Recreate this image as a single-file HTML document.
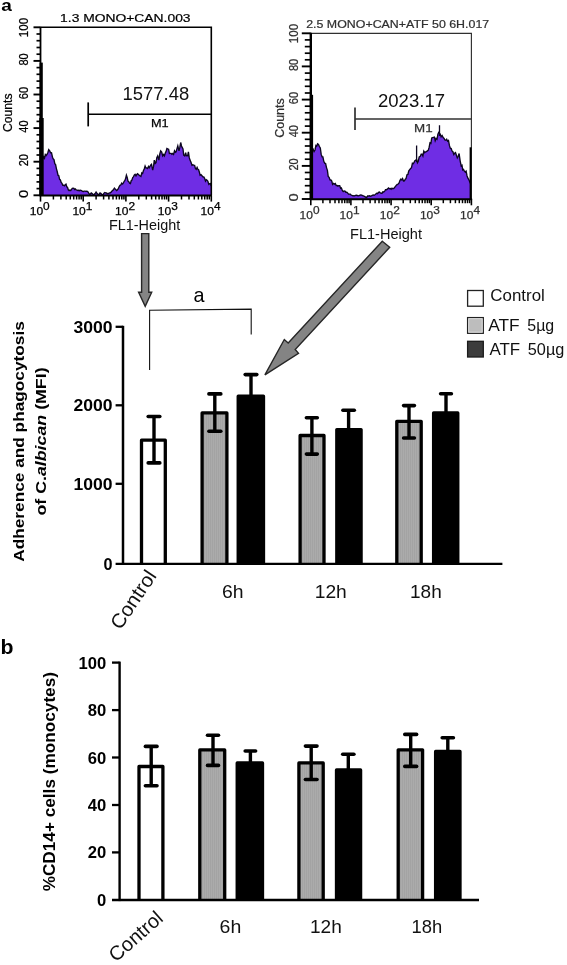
<!DOCTYPE html>
<html><head><meta charset="utf-8"><title>Figure</title>
<style>html,body{margin:0;padding:0;background:#fff;}svg{display:block;will-change:transform;-webkit-font-smoothing:antialiased;}text{font-family:"Liberation Sans",sans-serif;}</style></head><body>
<svg width="567" height="965" viewBox="0 0 567 965">
<defs><pattern id="gr" width="2" height="2" patternUnits="userSpaceOnUse"><rect width="2" height="2" fill="#ababab"/><rect width="1" height="2" fill="#a3a3a3"/></pattern></defs>
<rect x="0" y="0" width="567" height="965" fill="#ffffff"/>
<text x="1.3" y="11.4" font-size="16.5" font-weight="bold" text-anchor="start" fill="#000" textLength="10.6" lengthAdjust="spacingAndGlyphs">a</text>
<text x="0.6" y="653.8" font-size="19.5" font-weight="bold" text-anchor="start" fill="#000" textLength="13.0" lengthAdjust="spacingAndGlyphs">b</text>
<path d="M40.5,195.3 L41.3,160.4 L42.1,160.4 L42.9,158.6 L43.7,156.8 L44.5,158.2 L45.3,154.5 L46.1,155.6 L47.0,154.5 L47.9,152.4 L48.7,149.6 L49.6,150.6 L50.6,152.8 L51.5,152.7 L52.5,157.2 L53.3,159.0 L54.0,159.6 L54.8,163.6 L55.6,164.6 L56.4,168.6 L57.2,171.5 L58.0,175.2 L58.8,175.6 L59.6,179.4 L60.4,180.0 L61.2,182.4 L62.0,183.4 L62.8,185.2 L63.6,185.2 L64.4,185.8 L65.2,184.8 L66.0,184.2 L66.8,187.0 L67.5,187.2 L68.3,189.8 L69.1,190.6 L69.9,190.0 L70.7,190.6 L71.5,189.3 L72.3,188.4 L73.1,188.2 L73.9,188.3 L74.7,189.5 L75.4,188.9 L76.2,189.9 L77.0,190.2 L77.8,190.5 L78.6,190.3 L79.4,190.7 L80.2,190.3 L81.0,190.4 L81.8,190.8 L82.6,191.3 L83.4,191.5 L84.2,191.2 L85.0,191.1 L85.8,191.4 L86.6,191.2 L87.4,191.3 L88.2,192.2 L89.0,193.7 L89.8,194.5 L90.5,193.8 L91.3,192.9 L92.1,193.4 L92.9,194.3 L93.7,195.0 L94.5,194.0 L95.3,193.4 L96.1,192.1 L96.9,193.3 L97.7,193.9 L98.5,195.0 L99.2,194.3 L100.0,193.0 L100.8,193.4 L101.7,194.3 L102.5,195.0 L103.3,194.3 L104.0,193.1 L104.8,192.5 L105.6,192.9 L106.4,192.9 L107.2,193.7 L108.0,193.5 L108.8,193.3 L109.6,192.8 L110.4,192.8 L111.2,192.1 L112.0,190.9 L112.8,190.4 L113.6,189.3 L114.4,188.2 L115.2,189.1 L115.9,189.7 L116.7,190.6 L117.5,189.8 L118.3,188.7 L119.2,186.6 L120.0,185.3 L120.8,185.0 L121.7,183.1 L122.6,183.9 L123.4,182.8 L124.2,181.3 L124.9,180.4 L125.7,178.1 L126.4,175.2 L127.2,177.5 L128.0,181.1 L128.8,181.6 L129.6,183.2 L130.4,183.6 L131.2,180.7 L131.9,180.1 L132.7,177.6 L133.4,176.9 L134.2,175.1 L135.1,174.3 L136.0,175.9 L136.8,174.4 L137.6,173.6 L138.4,174.4 L139.3,175.3 L140.1,176.0 L140.9,176.4 L141.8,172.9 L142.6,173.5 L143.4,170.8 L144.3,168.7 L145.1,166.0 L145.9,167.9 L146.8,168.0 L147.6,168.5 L148.5,166.5 L149.3,167.7 L150.0,166.2 L150.8,164.9 L151.5,164.3 L152.7,170.2 L153.5,166.7 L154.3,160.1 L155.2,163.4 L156.0,162.6 L156.8,157.6 L157.7,155.9 L158.9,160.1 L159.8,153.9 L160.7,150.9 L161.7,152.0 L162.7,155.9 L163.6,154.6 L164.4,155.9 L165.2,153.3 L166.1,151.4 L166.9,148.4 L167.7,148.8 L168.6,149.2 L169.4,153.4 L170.2,153.3 L171.1,153.3 L171.9,154.3 L172.8,153.5 L173.6,154.4 L174.5,150.9 L175.3,152.3 L176.1,151.8 L176.9,148.9 L177.8,145.9 L179.0,150.9 L179.8,147.4 L180.7,142.5 L181.5,146.0 L182.3,147.6 L183.0,149.0 L183.7,155.1 L184.7,155.9 L185.7,152.6 L186.3,155.7 L187.0,155.9 L187.7,155.7 L188.4,151.8 L189.2,157.4 L190.0,160.1 L191.0,162.2 L192.0,165.2 L192.8,164.8 L193.7,165.2 L194.6,165.3 L195.4,168.5 L196.2,169.3 L197.1,167.4 L197.9,169.4 L198.6,169.8 L199.4,172.3 L200.1,175.2 L201.0,174.7 L202.0,175.8 L202.9,176.9 L203.8,177.0 L204.6,178.3 L205.5,181.1 L206.3,179.7 L207.1,180.2 L207.9,181.3 L208.8,184.4 L209.7,183.7 L210.5,183.6 L211.2,186.0 L211.3,195.3 Z" fill="#6f2de4" stroke="none"/>
<path d="M41.3,160.4 L42.1,160.4 L42.9,158.6 L43.7,156.8 L44.5,158.2 L45.3,154.5 L46.1,155.6 L47.0,154.5 L47.9,152.4 L48.7,149.6 L49.6,150.6 L50.6,152.8 L51.5,152.7 L52.5,157.2 L53.3,159.0 L54.0,159.6 L54.8,163.6 L55.6,164.6 L56.4,168.6 L57.2,171.5 L58.0,175.2 L58.8,175.6 L59.6,179.4 L60.4,180.0 L61.2,182.4 L62.0,183.4 L62.8,185.2 L63.6,185.2 L64.4,185.8 L65.2,184.8 L66.0,184.2 L66.8,187.0 L67.5,187.2 L68.3,189.8 L69.1,190.6 L69.9,190.0 L70.7,190.6 L71.5,189.3 L72.3,188.4 L73.1,188.2 L73.9,188.3 L74.7,189.5 L75.4,188.9 L76.2,189.9 L77.0,190.2 L77.8,190.5 L78.6,190.3 L79.4,190.7 L80.2,190.3 L81.0,190.4 L81.8,190.8 L82.6,191.3 L83.4,191.5 L84.2,191.2 L85.0,191.1 L85.8,191.4 L86.6,191.2 L87.4,191.3 L88.2,192.2 L89.0,193.7 L89.8,194.5 L90.5,193.8 L91.3,192.9 L92.1,193.4 L92.9,194.3 L93.7,195.0 L94.5,194.0 L95.3,193.4 L96.1,192.1 L96.9,193.3 L97.7,193.9 L98.5,195.0 L99.2,194.3 L100.0,193.0 L100.8,193.4 L101.7,194.3 L102.5,195.0 L103.3,194.3 L104.0,193.1 L104.8,192.5 L105.6,192.9 L106.4,192.9 L107.2,193.7 L108.0,193.5 L108.8,193.3 L109.6,192.8 L110.4,192.8 L111.2,192.1 L112.0,190.9 L112.8,190.4 L113.6,189.3 L114.4,188.2 L115.2,189.1 L115.9,189.7 L116.7,190.6 L117.5,189.8 L118.3,188.7 L119.2,186.6 L120.0,185.3 L120.8,185.0 L121.7,183.1 L122.6,183.9 L123.4,182.8 L124.2,181.3 L124.9,180.4 L125.7,178.1 L126.4,175.2 L127.2,177.5 L128.0,181.1 L128.8,181.6 L129.6,183.2 L130.4,183.6 L131.2,180.7 L131.9,180.1 L132.7,177.6 L133.4,176.9 L134.2,175.1 L135.1,174.3 L136.0,175.9 L136.8,174.4 L137.6,173.6 L138.4,174.4 L139.3,175.3 L140.1,176.0 L140.9,176.4 L141.8,172.9 L142.6,173.5 L143.4,170.8 L144.3,168.7 L145.1,166.0 L145.9,167.9 L146.8,168.0 L147.6,168.5 L148.5,166.5 L149.3,167.7 L150.0,166.2 L150.8,164.9 L151.5,164.3 L152.7,170.2 L153.5,166.7 L154.3,160.1 L155.2,163.4 L156.0,162.6 L156.8,157.6 L157.7,155.9 L158.9,160.1 L159.8,153.9 L160.7,150.9 L161.7,152.0 L162.7,155.9 L163.6,154.6 L164.4,155.9 L165.2,153.3 L166.1,151.4 L166.9,148.4 L167.7,148.8 L168.6,149.2 L169.4,153.4 L170.2,153.3 L171.1,153.3 L171.9,154.3 L172.8,153.5 L173.6,154.4 L174.5,150.9 L175.3,152.3 L176.1,151.8 L176.9,148.9 L177.8,145.9 L179.0,150.9 L179.8,147.4 L180.7,142.5 L181.5,146.0 L182.3,147.6 L183.0,149.0 L183.7,155.1 L184.7,155.9 L185.7,152.6 L186.3,155.7 L187.0,155.9 L187.7,155.7 L188.4,151.8 L189.2,157.4 L190.0,160.1 L191.0,162.2 L192.0,165.2 L192.8,164.8 L193.7,165.2 L194.6,165.3 L195.4,168.5 L196.2,169.3 L197.1,167.4 L197.9,169.4 L198.6,169.8 L199.4,172.3 L200.1,175.2 L201.0,174.7 L202.0,175.8 L202.9,176.9 L203.8,177.0 L204.6,178.3 L205.5,181.1 L206.3,179.7 L207.1,180.2 L207.9,181.3 L208.8,184.4 L209.7,183.7 L210.5,183.6 L211.2,186.0" fill="none" stroke="#0c0620" stroke-width="1.35" stroke-linejoin="miter"/>
<path d="M40.5,27.3 H211.3 V195.3" fill="none" stroke="#000" stroke-width="1.6"/>
<path d="M40.5,26.8 V195.3" fill="none" stroke="#000" stroke-width="1.8"/>
<path d="M39.5,195.5 H212.0" fill="none" stroke="#000" stroke-width="2"/>
<path d="M41.2,62.6 V195.3" stroke="#000" stroke-width="3.2"/>
<path d="M41.5,118 V195.3" stroke="#000" stroke-width="4.4"/>
<path d="M33.5,195.3 H40.5" stroke="#000" stroke-width="1.9"/>
<path d="M36.5,188.6 H40.5" stroke="#000" stroke-width="1.7"/>
<path d="M36.5,181.9 H40.5" stroke="#000" stroke-width="1.7"/>
<path d="M36.5,175.1 H40.5" stroke="#000" stroke-width="1.7"/>
<path d="M36.5,168.4 H40.5" stroke="#000" stroke-width="1.7"/>
<path d="M33.5,161.7 H40.5" stroke="#000" stroke-width="1.9"/>
<path d="M36.5,155.0 H40.5" stroke="#000" stroke-width="1.7"/>
<path d="M36.5,148.3 H40.5" stroke="#000" stroke-width="1.7"/>
<path d="M36.5,141.5 H40.5" stroke="#000" stroke-width="1.7"/>
<path d="M36.5,134.8 H40.5" stroke="#000" stroke-width="1.7"/>
<path d="M33.5,128.1 H40.5" stroke="#000" stroke-width="1.9"/>
<path d="M36.5,121.4 H40.5" stroke="#000" stroke-width="1.7"/>
<path d="M36.5,114.7 H40.5" stroke="#000" stroke-width="1.7"/>
<path d="M36.5,107.9 H40.5" stroke="#000" stroke-width="1.7"/>
<path d="M36.5,101.2 H40.5" stroke="#000" stroke-width="1.7"/>
<path d="M33.5,94.5 H40.5" stroke="#000" stroke-width="1.9"/>
<path d="M36.5,87.8 H40.5" stroke="#000" stroke-width="1.7"/>
<path d="M36.5,81.1 H40.5" stroke="#000" stroke-width="1.7"/>
<path d="M36.5,74.3 H40.5" stroke="#000" stroke-width="1.7"/>
<path d="M36.5,67.6 H40.5" stroke="#000" stroke-width="1.7"/>
<path d="M33.5,60.9 H40.5" stroke="#000" stroke-width="1.9"/>
<path d="M36.5,54.2 H40.5" stroke="#000" stroke-width="1.7"/>
<path d="M36.5,47.5 H40.5" stroke="#000" stroke-width="1.7"/>
<path d="M36.5,40.7 H40.5" stroke="#000" stroke-width="1.7"/>
<path d="M36.5,34.0 H40.5" stroke="#000" stroke-width="1.7"/>
<path d="M33.5,27.3 H40.5" stroke="#000" stroke-width="1.9"/>
<text x="28.4" y="193.8" font-size="12.6" font-weight="normal" text-anchor="middle" fill="#000" textLength="8.2" lengthAdjust="spacingAndGlyphs" transform="rotate(-90 28.4 193.8)" stroke="#000" stroke-width="0.25">0</text>
<text x="28.4" y="160.2" font-size="12.6" font-weight="normal" text-anchor="middle" fill="#000" textLength="12.3" lengthAdjust="spacingAndGlyphs" transform="rotate(-90 28.4 160.2)" stroke="#000" stroke-width="0.25">20</text>
<text x="28.4" y="126.6" font-size="12.6" font-weight="normal" text-anchor="middle" fill="#000" textLength="12.3" lengthAdjust="spacingAndGlyphs" transform="rotate(-90 28.4 126.6)" stroke="#000" stroke-width="0.25">40</text>
<text x="28.4" y="93.0" font-size="12.6" font-weight="normal" text-anchor="middle" fill="#000" textLength="12.3" lengthAdjust="spacingAndGlyphs" transform="rotate(-90 28.4 93.0)" stroke="#000" stroke-width="0.25">60</text>
<text x="28.4" y="59.4" font-size="12.6" font-weight="normal" text-anchor="middle" fill="#000" textLength="12.3" lengthAdjust="spacingAndGlyphs" transform="rotate(-90 28.4 59.4)" stroke="#000" stroke-width="0.25">80</text>
<text x="28.4" y="27.5" font-size="12.6" font-weight="normal" text-anchor="middle" fill="#000" textLength="19.3" lengthAdjust="spacingAndGlyphs" transform="rotate(-90 28.4 27.5)" stroke="#000" stroke-width="0.25">100</text>
<path d="M40.5,195.3 V201.60000000000002" stroke="#000" stroke-width="1.6"/>
<path d="M53.4,195.3 V199.5" stroke="#000" stroke-width="1.5"/>
<path d="M60.9,195.3 V199.5" stroke="#000" stroke-width="1.5"/>
<path d="M66.2,195.3 V199.5" stroke="#000" stroke-width="1.5"/>
<path d="M70.3,195.3 V199.5" stroke="#000" stroke-width="1.5"/>
<path d="M73.7,195.3 V199.5" stroke="#000" stroke-width="1.5"/>
<path d="M76.6,195.3 V199.5" stroke="#000" stroke-width="1.5"/>
<path d="M79.1,195.3 V199.5" stroke="#000" stroke-width="1.5"/>
<path d="M81.2,195.3 V199.5" stroke="#000" stroke-width="1.5"/>
<path d="M83.2,195.3 V201.60000000000002" stroke="#000" stroke-width="1.6"/>
<path d="M96.1,195.3 V199.5" stroke="#000" stroke-width="1.5"/>
<path d="M103.6,195.3 V199.5" stroke="#000" stroke-width="1.5"/>
<path d="M108.9,195.3 V199.5" stroke="#000" stroke-width="1.5"/>
<path d="M113.0,195.3 V199.5" stroke="#000" stroke-width="1.5"/>
<path d="M116.4,195.3 V199.5" stroke="#000" stroke-width="1.5"/>
<path d="M119.3,195.3 V199.5" stroke="#000" stroke-width="1.5"/>
<path d="M121.8,195.3 V199.5" stroke="#000" stroke-width="1.5"/>
<path d="M123.9,195.3 V199.5" stroke="#000" stroke-width="1.5"/>
<path d="M125.9,195.3 V201.60000000000002" stroke="#000" stroke-width="1.6"/>
<path d="M138.8,195.3 V199.5" stroke="#000" stroke-width="1.5"/>
<path d="M146.3,195.3 V199.5" stroke="#000" stroke-width="1.5"/>
<path d="M151.6,195.3 V199.5" stroke="#000" stroke-width="1.5"/>
<path d="M155.7,195.3 V199.5" stroke="#000" stroke-width="1.5"/>
<path d="M159.1,195.3 V199.5" stroke="#000" stroke-width="1.5"/>
<path d="M162.0,195.3 V199.5" stroke="#000" stroke-width="1.5"/>
<path d="M164.5,195.3 V199.5" stroke="#000" stroke-width="1.5"/>
<path d="M166.6,195.3 V199.5" stroke="#000" stroke-width="1.5"/>
<path d="M168.6,195.3 V201.60000000000002" stroke="#000" stroke-width="1.6"/>
<path d="M181.5,195.3 V199.5" stroke="#000" stroke-width="1.5"/>
<path d="M189.0,195.3 V199.5" stroke="#000" stroke-width="1.5"/>
<path d="M194.3,195.3 V199.5" stroke="#000" stroke-width="1.5"/>
<path d="M198.4,195.3 V199.5" stroke="#000" stroke-width="1.5"/>
<path d="M201.8,195.3 V199.5" stroke="#000" stroke-width="1.5"/>
<path d="M204.7,195.3 V199.5" stroke="#000" stroke-width="1.5"/>
<path d="M207.2,195.3 V199.5" stroke="#000" stroke-width="1.5"/>
<path d="M209.3,195.3 V199.5" stroke="#000" stroke-width="1.5"/>
<path d="M211.3,195.3 V201.60000000000002" stroke="#000" stroke-width="1.6"/>
<text x="29.7" y="215.1" font-size="11" font-weight="normal" text-anchor="start" fill="#000" textLength="13.4" lengthAdjust="spacingAndGlyphs" stroke="#000" stroke-width="0.25">10</text>
<text x="43.1" y="209.9" font-size="10" font-weight="normal" text-anchor="start" fill="#000" textLength="6.6" lengthAdjust="spacingAndGlyphs" stroke="#000" stroke-width="0.25">0</text>
<text x="72.4" y="215.1" font-size="11" font-weight="normal" text-anchor="start" fill="#000" textLength="13.4" lengthAdjust="spacingAndGlyphs" stroke="#000" stroke-width="0.25">10</text>
<text x="85.8" y="209.9" font-size="10" font-weight="normal" text-anchor="start" fill="#000" textLength="6.6" lengthAdjust="spacingAndGlyphs" stroke="#000" stroke-width="0.25">1</text>
<text x="115.1" y="215.1" font-size="11" font-weight="normal" text-anchor="start" fill="#000" textLength="13.4" lengthAdjust="spacingAndGlyphs" stroke="#000" stroke-width="0.25">10</text>
<text x="128.5" y="209.9" font-size="10" font-weight="normal" text-anchor="start" fill="#000" textLength="6.6" lengthAdjust="spacingAndGlyphs" stroke="#000" stroke-width="0.25">2</text>
<text x="157.8" y="215.1" font-size="11" font-weight="normal" text-anchor="start" fill="#000" textLength="13.4" lengthAdjust="spacingAndGlyphs" stroke="#000" stroke-width="0.25">10</text>
<text x="171.2" y="209.9" font-size="10" font-weight="normal" text-anchor="start" fill="#000" textLength="6.6" lengthAdjust="spacingAndGlyphs" stroke="#000" stroke-width="0.25">3</text>
<text x="200.5" y="215.1" font-size="11" font-weight="normal" text-anchor="start" fill="#000" textLength="13.4" lengthAdjust="spacingAndGlyphs" stroke="#000" stroke-width="0.25">10</text>
<text x="213.9" y="209.9" font-size="10" font-weight="normal" text-anchor="start" fill="#000" textLength="6.6" lengthAdjust="spacingAndGlyphs" stroke="#000" stroke-width="0.25">4</text>
<text x="60.1" y="22.3" font-size="11.2" font-weight="normal" text-anchor="start" fill="#000" textLength="130.5" lengthAdjust="spacingAndGlyphs" stroke="#000" stroke-width="0.2">1.3 MONO+CAN.003</text>
<path d="M88.2,114.3 H211.3" stroke="#000" stroke-width="1.5"/>
<path d="M88.2,102.4 V126.4" stroke="#000" stroke-width="1.7"/>
<text x="122.6" y="99.7" font-size="18.8" font-weight="normal" text-anchor="start" fill="#111" textLength="66.6" lengthAdjust="spacingAndGlyphs">1577.48</text>
<text x="150.9" y="127.3" font-size="11.6" font-weight="normal" text-anchor="start" fill="#000" textLength="17.7" lengthAdjust="spacingAndGlyphs" stroke="#000" stroke-width="0.25">M1</text>
<text x="11.6" y="112.7" font-size="13.2" font-weight="normal" text-anchor="middle" fill="#000" textLength="38.5" lengthAdjust="spacingAndGlyphs" transform="rotate(-90 11.6 112.7)" stroke="#000" stroke-width="0.25">Counts</text>
<text x="109" y="230.3" font-size="14.6" font-weight="normal" text-anchor="start" fill="#111" textLength="71.2" lengthAdjust="spacingAndGlyphs">FL1-Height</text>
<path d="M310.8,199 L311.2,152.6 L311.5,152.6 L312.4,151.0 L313.2,149.4 L314.1,151.5 L315.0,150.0 L315.9,145.5 L316.7,146.1 L317.6,143.8 L318.5,144.4 L319.4,146.5 L320.3,148.0 L321.2,154.4 L322.1,156.8 L322.9,156.8 L323.8,161.4 L324.7,163.2 L325.6,163.6 L326.5,167.6 L327.4,170.4 L328.2,176.4 L329.1,177.3 L330.0,179.9 L330.9,180.0 L331.8,181.1 L332.6,184.4 L333.5,183.4 L334.4,184.1 L335.3,183.5 L336.2,185.5 L337.0,185.4 L337.9,186.1 L338.8,185.6 L339.7,185.6 L340.6,188.3 L341.4,187.9 L342.3,190.5 L343.2,191.6 L344.1,191.0 L345.0,191.2 L345.9,192.3 L346.8,192.2 L347.6,192.9 L348.5,194.1 L349.4,194.1 L350.3,194.1 L351.1,195.0 L352.0,195.5 L352.9,195.8 L353.8,195.7 L354.7,195.8 L355.5,195.4 L356.4,195.3 L357.3,195.5 L358.2,195.8 L359.1,195.7 L359.9,195.2 L360.8,195.0 L361.7,195.1 L362.6,195.6 L363.5,195.8 L364.4,196.4 L365.2,196.8 L366.1,197.6 L367.0,196.9 L367.9,195.8 L368.8,196.1 L369.6,195.8 L370.5,196.2 L371.4,195.9 L372.3,195.4 L373.2,195.0 L374.1,195.2 L374.9,194.7 L375.8,194.1 L376.7,193.2 L377.6,193.6 L378.5,192.3 L379.4,192.0 L380.2,192.8 L381.1,193.2 L382.0,193.2 L382.9,191.8 L383.8,192.0 L384.7,191.2 L385.5,189.6 L386.4,189.7 L387.4,189.2 L388.5,187.9 L389.4,188.7 L390.3,188.4 L391.1,189.2 L392.0,188.2 L392.9,188.8 L393.8,188.4 L394.7,187.3 L395.5,186.4 L396.4,185.2 L397.3,184.4 L398.2,184.0 L399.1,183.0 L400.0,180.3 L400.9,179.1 L401.8,180.0 L402.6,178.6 L403.5,181.0 L404.4,180.8 L405.3,179.2 L406.1,178.4 L407.0,174.7 L407.9,174.4 L408.8,170.8 L409.7,169.6 L410.6,168.5 L411.5,167.7 L412.4,163.3 L413.2,163.7 L414.1,162.3 L414.9,160.6 L415.7,160.1 L416.6,159.7 L417.4,162.8 L418.2,161.4 L419.2,157.0 L420.3,156.2 L421.2,154.2 L422.1,154.2 L422.9,156.0 L423.8,151.1 L424.7,152.6 L425.6,151.8 L426.4,151.7 L427.3,150.9 L428.2,150.4 L429.1,147.4 L430.0,142.9 L430.9,143.4 L431.7,138.0 L432.6,137.6 L433.5,137.3 L434.4,137.1 L435.2,140.7 L436.1,138.5 L437.0,139.3 L437.9,134.1 L438.7,132.5 L439.5,133.3 L440.3,134.4 L441.1,136.8 L442.1,135.5 L443.2,137.6 L444.1,138.4 L444.9,140.0 L445.8,140.3 L446.7,139.3 L447.6,141.2 L448.5,140.5 L449.4,145.4 L450.3,148.2 L451.2,148.6 L452.0,150.9 L452.9,151.7 L453.8,154.5 L454.6,153.3 L455.5,152.6 L456.4,155.3 L457.3,157.9 L458.2,156.3 L459.1,153.5 L460.1,160.6 L461.2,165.9 L462.0,165.2 L462.7,169.9 L463.5,169.4 L464.4,171.1 L465.2,172.0 L466.1,171.1 L467.0,175.7 L467.9,178.2 L468.8,179.6 L469.6,181.4 L470.5,183.5 L471.4,199 Z" fill="#6f2de4" stroke="none"/>
<path d="M311.2,152.6 L311.5,152.6 L312.4,151.0 L313.2,149.4 L314.1,151.5 L315.0,150.0 L315.9,145.5 L316.7,146.1 L317.6,143.8 L318.5,144.4 L319.4,146.5 L320.3,148.0 L321.2,154.4 L322.1,156.8 L322.9,156.8 L323.8,161.4 L324.7,163.2 L325.6,163.6 L326.5,167.6 L327.4,170.4 L328.2,176.4 L329.1,177.3 L330.0,179.9 L330.9,180.0 L331.8,181.1 L332.6,184.4 L333.5,183.4 L334.4,184.1 L335.3,183.5 L336.2,185.5 L337.0,185.4 L337.9,186.1 L338.8,185.6 L339.7,185.6 L340.6,188.3 L341.4,187.9 L342.3,190.5 L343.2,191.6 L344.1,191.0 L345.0,191.2 L345.9,192.3 L346.8,192.2 L347.6,192.9 L348.5,194.1 L349.4,194.1 L350.3,194.1 L351.1,195.0 L352.0,195.5 L352.9,195.8 L353.8,195.7 L354.7,195.8 L355.5,195.4 L356.4,195.3 L357.3,195.5 L358.2,195.8 L359.1,195.7 L359.9,195.2 L360.8,195.0 L361.7,195.1 L362.6,195.6 L363.5,195.8 L364.4,196.4 L365.2,196.8 L366.1,197.6 L367.0,196.9 L367.9,195.8 L368.8,196.1 L369.6,195.8 L370.5,196.2 L371.4,195.9 L372.3,195.4 L373.2,195.0 L374.1,195.2 L374.9,194.7 L375.8,194.1 L376.7,193.2 L377.6,193.6 L378.5,192.3 L379.4,192.0 L380.2,192.8 L381.1,193.2 L382.0,193.2 L382.9,191.8 L383.8,192.0 L384.7,191.2 L385.5,189.6 L386.4,189.7 L387.4,189.2 L388.5,187.9 L389.4,188.7 L390.3,188.4 L391.1,189.2 L392.0,188.2 L392.9,188.8 L393.8,188.4 L394.7,187.3 L395.5,186.4 L396.4,185.2 L397.3,184.4 L398.2,184.0 L399.1,183.0 L400.0,180.3 L400.9,179.1 L401.8,180.0 L402.6,178.6 L403.5,181.0 L404.4,180.8 L405.3,179.2 L406.1,178.4 L407.0,174.7 L407.9,174.4 L408.8,170.8 L409.7,169.6 L410.6,168.5 L411.5,167.7 L412.4,163.3 L413.2,163.7 L414.1,162.3 L414.9,160.6 L415.7,160.1 L416.6,159.7 L417.4,162.8 L418.2,161.4 L419.2,157.0 L420.3,156.2 L421.2,154.2 L422.1,154.2 L422.9,156.0 L423.8,151.1 L424.7,152.6 L425.6,151.8 L426.4,151.7 L427.3,150.9 L428.2,150.4 L429.1,147.4 L430.0,142.9 L430.9,143.4 L431.7,138.0 L432.6,137.6 L433.5,137.3 L434.4,137.1 L435.2,140.7 L436.1,138.5 L437.0,139.3 L437.9,134.1 L438.7,132.5 L439.5,133.3 L440.3,134.4 L441.1,136.8 L442.1,135.5 L443.2,137.6 L444.1,138.4 L444.9,140.0 L445.8,140.3 L446.7,139.3 L447.6,141.2 L448.5,140.5 L449.4,145.4 L450.3,148.2 L451.2,148.6 L452.0,150.9 L452.9,151.7 L453.8,154.5 L454.6,153.3 L455.5,152.6 L456.4,155.3 L457.3,157.9 L458.2,156.3 L459.1,153.5 L460.1,160.6 L461.2,165.9 L462.0,165.2 L462.7,169.9 L463.5,169.4 L464.4,171.1 L465.2,172.0 L466.1,171.1 L467.0,175.7 L467.9,178.2 L468.8,179.6 L469.6,181.4 L470.5,183.5" fill="none" stroke="#0c0620" stroke-width="1.35" stroke-linejoin="miter"/>
<path d="M310.8,33.3 H471.4 V199" fill="none" stroke="#303030" stroke-width="1.15"/>
<path d="M310.8,32.8 V199" fill="none" stroke="#000" stroke-width="2.4"/>
<path d="M309.8,199.2 H472.09999999999997" fill="none" stroke="#000" stroke-width="2"/>
<path d="M311.5,94.8 V199" stroke="#000" stroke-width="3.2"/>
<path d="M470.59999999999997,147.3 V199" stroke="#000" stroke-width="2"/>
<path d="M301.8,199.0 H310.8" stroke="#000" stroke-width="1.9"/>
<path d="M304.8,192.4 H310.8" stroke="#000" stroke-width="1.7"/>
<path d="M304.8,185.7 H310.8" stroke="#000" stroke-width="1.7"/>
<path d="M304.8,179.1 H310.8" stroke="#000" stroke-width="1.7"/>
<path d="M304.8,172.5 H310.8" stroke="#000" stroke-width="1.7"/>
<path d="M301.8,165.9 H310.8" stroke="#000" stroke-width="1.9"/>
<path d="M304.8,159.2 H310.8" stroke="#000" stroke-width="1.7"/>
<path d="M304.8,152.6 H310.8" stroke="#000" stroke-width="1.7"/>
<path d="M304.8,146.0 H310.8" stroke="#000" stroke-width="1.7"/>
<path d="M304.8,139.3 H310.8" stroke="#000" stroke-width="1.7"/>
<path d="M301.8,132.7 H310.8" stroke="#000" stroke-width="1.9"/>
<path d="M304.8,126.1 H310.8" stroke="#000" stroke-width="1.7"/>
<path d="M304.8,119.5 H310.8" stroke="#000" stroke-width="1.7"/>
<path d="M304.8,112.8 H310.8" stroke="#000" stroke-width="1.7"/>
<path d="M304.8,106.2 H310.8" stroke="#000" stroke-width="1.7"/>
<path d="M301.8,99.6 H310.8" stroke="#000" stroke-width="1.9"/>
<path d="M304.8,93.0 H310.8" stroke="#000" stroke-width="1.7"/>
<path d="M304.8,86.3 H310.8" stroke="#000" stroke-width="1.7"/>
<path d="M304.8,79.7 H310.8" stroke="#000" stroke-width="1.7"/>
<path d="M304.8,73.1 H310.8" stroke="#000" stroke-width="1.7"/>
<path d="M301.8,66.4 H310.8" stroke="#000" stroke-width="1.9"/>
<path d="M304.8,59.8 H310.8" stroke="#000" stroke-width="1.7"/>
<path d="M304.8,53.2 H310.8" stroke="#000" stroke-width="1.7"/>
<path d="M304.8,46.6 H310.8" stroke="#000" stroke-width="1.7"/>
<path d="M304.8,39.9 H310.8" stroke="#000" stroke-width="1.7"/>
<path d="M301.8,33.3 H310.8" stroke="#000" stroke-width="1.9"/>
<text x="298.2" y="197.5" font-size="12.6" font-weight="normal" text-anchor="middle" fill="#303030" textLength="8.2" lengthAdjust="spacingAndGlyphs" transform="rotate(-90 298.2 197.5)" stroke="#303030" stroke-width="0.25">0</text>
<text x="298.2" y="164.4" font-size="12.6" font-weight="normal" text-anchor="middle" fill="#303030" textLength="12.3" lengthAdjust="spacingAndGlyphs" transform="rotate(-90 298.2 164.4)" stroke="#303030" stroke-width="0.25">20</text>
<text x="298.2" y="131.2" font-size="12.6" font-weight="normal" text-anchor="middle" fill="#303030" textLength="12.3" lengthAdjust="spacingAndGlyphs" transform="rotate(-90 298.2 131.2)" stroke="#303030" stroke-width="0.25">40</text>
<text x="298.2" y="98.1" font-size="12.6" font-weight="normal" text-anchor="middle" fill="#303030" textLength="12.3" lengthAdjust="spacingAndGlyphs" transform="rotate(-90 298.2 98.1)" stroke="#303030" stroke-width="0.25">60</text>
<text x="298.2" y="64.9" font-size="12.6" font-weight="normal" text-anchor="middle" fill="#303030" textLength="12.3" lengthAdjust="spacingAndGlyphs" transform="rotate(-90 298.2 64.9)" stroke="#303030" stroke-width="0.25">80</text>
<text x="298.2" y="33.5" font-size="12.6" font-weight="normal" text-anchor="middle" fill="#303030" textLength="19.3" lengthAdjust="spacingAndGlyphs" transform="rotate(-90 298.2 33.5)" stroke="#303030" stroke-width="0.25">100</text>
<path d="M310.8,199 V205.3" stroke="#000" stroke-width="1.6"/>
<path d="M322.9,199 V203.2" stroke="#000" stroke-width="1.5"/>
<path d="M330.0,199 V203.2" stroke="#000" stroke-width="1.5"/>
<path d="M335.0,199 V203.2" stroke="#000" stroke-width="1.5"/>
<path d="M338.9,199 V203.2" stroke="#000" stroke-width="1.5"/>
<path d="M342.0,199 V203.2" stroke="#000" stroke-width="1.5"/>
<path d="M344.7,199 V203.2" stroke="#000" stroke-width="1.5"/>
<path d="M347.1,199 V203.2" stroke="#000" stroke-width="1.5"/>
<path d="M349.1,199 V203.2" stroke="#000" stroke-width="1.5"/>
<path d="M350.9,199 V205.3" stroke="#000" stroke-width="1.6"/>
<path d="M363.0,199 V203.2" stroke="#000" stroke-width="1.5"/>
<path d="M370.1,199 V203.2" stroke="#000" stroke-width="1.5"/>
<path d="M375.1,199 V203.2" stroke="#000" stroke-width="1.5"/>
<path d="M379.0,199 V203.2" stroke="#000" stroke-width="1.5"/>
<path d="M382.2,199 V203.2" stroke="#000" stroke-width="1.5"/>
<path d="M384.9,199 V203.2" stroke="#000" stroke-width="1.5"/>
<path d="M387.2,199 V203.2" stroke="#000" stroke-width="1.5"/>
<path d="M389.3,199 V203.2" stroke="#000" stroke-width="1.5"/>
<path d="M391.1,199 V205.3" stroke="#000" stroke-width="1.6"/>
<path d="M403.2,199 V203.2" stroke="#000" stroke-width="1.5"/>
<path d="M410.3,199 V203.2" stroke="#000" stroke-width="1.5"/>
<path d="M415.3,199 V203.2" stroke="#000" stroke-width="1.5"/>
<path d="M419.2,199 V203.2" stroke="#000" stroke-width="1.5"/>
<path d="M422.3,199 V203.2" stroke="#000" stroke-width="1.5"/>
<path d="M425.0,199 V203.2" stroke="#000" stroke-width="1.5"/>
<path d="M427.4,199 V203.2" stroke="#000" stroke-width="1.5"/>
<path d="M429.4,199 V203.2" stroke="#000" stroke-width="1.5"/>
<path d="M431.2,199 V205.3" stroke="#000" stroke-width="1.6"/>
<path d="M443.3,199 V203.2" stroke="#000" stroke-width="1.5"/>
<path d="M450.4,199 V203.2" stroke="#000" stroke-width="1.5"/>
<path d="M455.4,199 V203.2" stroke="#000" stroke-width="1.5"/>
<path d="M459.3,199 V203.2" stroke="#000" stroke-width="1.5"/>
<path d="M462.5,199 V203.2" stroke="#000" stroke-width="1.5"/>
<path d="M465.2,199 V203.2" stroke="#000" stroke-width="1.5"/>
<path d="M467.5,199 V203.2" stroke="#000" stroke-width="1.5"/>
<path d="M469.6,199 V203.2" stroke="#000" stroke-width="1.5"/>
<path d="M471.4,199 V205.3" stroke="#000" stroke-width="1.6"/>
<text x="299.5" y="219.3" font-size="11" font-weight="normal" text-anchor="start" fill="#303030" textLength="13.4" lengthAdjust="spacingAndGlyphs" stroke="#303030" stroke-width="0.25">10</text>
<text x="312.9" y="214.10000000000002" font-size="10" font-weight="normal" text-anchor="start" fill="#303030" textLength="6.6" lengthAdjust="spacingAndGlyphs" stroke="#303030" stroke-width="0.25">0</text>
<text x="339.6" y="219.3" font-size="11" font-weight="normal" text-anchor="start" fill="#303030" textLength="13.4" lengthAdjust="spacingAndGlyphs" stroke="#303030" stroke-width="0.25">10</text>
<text x="353.0" y="214.10000000000002" font-size="10" font-weight="normal" text-anchor="start" fill="#303030" textLength="6.6" lengthAdjust="spacingAndGlyphs" stroke="#303030" stroke-width="0.25">1</text>
<text x="379.8" y="219.3" font-size="11" font-weight="normal" text-anchor="start" fill="#303030" textLength="13.4" lengthAdjust="spacingAndGlyphs" stroke="#303030" stroke-width="0.25">10</text>
<text x="393.2" y="214.10000000000002" font-size="10" font-weight="normal" text-anchor="start" fill="#303030" textLength="6.6" lengthAdjust="spacingAndGlyphs" stroke="#303030" stroke-width="0.25">2</text>
<text x="419.9" y="219.3" font-size="11" font-weight="normal" text-anchor="start" fill="#303030" textLength="13.4" lengthAdjust="spacingAndGlyphs" stroke="#303030" stroke-width="0.25">10</text>
<text x="433.3" y="214.10000000000002" font-size="10" font-weight="normal" text-anchor="start" fill="#303030" textLength="6.6" lengthAdjust="spacingAndGlyphs" stroke="#303030" stroke-width="0.25">3</text>
<text x="460.1" y="219.3" font-size="11" font-weight="normal" text-anchor="start" fill="#303030" textLength="13.4" lengthAdjust="spacingAndGlyphs" stroke="#303030" stroke-width="0.25">10</text>
<text x="473.5" y="214.10000000000002" font-size="10" font-weight="normal" text-anchor="start" fill="#303030" textLength="6.6" lengthAdjust="spacingAndGlyphs" stroke="#303030" stroke-width="0.25">4</text>
<text x="306.2" y="28.2" font-size="10.4" font-weight="normal" text-anchor="start" fill="#303030" textLength="183" lengthAdjust="spacingAndGlyphs" stroke="#303030" stroke-width="0.2">2.5 MONO+CAN+ATF 50 6H.017</text>
<path d="M355,119 H471.4" stroke="#303030" stroke-width="1.5"/>
<path d="M355,107.5 V130" stroke="#303030" stroke-width="1.7"/>
<text x="378" y="106.5" font-size="18.8" font-weight="normal" text-anchor="start" fill="#111" textLength="67" lengthAdjust="spacingAndGlyphs">2023.17</text>
<text x="414" y="131.9" font-size="11.6" font-weight="normal" text-anchor="start" fill="#303030" textLength="18.6" lengthAdjust="spacingAndGlyphs" stroke="#303030" stroke-width="0.25">M1</text>
<text x="283.6" y="118" font-size="13.2" font-weight="normal" text-anchor="middle" fill="#303030" textLength="39.5" lengthAdjust="spacingAndGlyphs" transform="rotate(-90 283.6 118)" stroke="#303030" stroke-width="0.25">Counts</text>
<text x="350.0" y="238.5" font-size="14.6" font-weight="normal" text-anchor="start" fill="#111" textLength="72" lengthAdjust="spacingAndGlyphs">FL1-Height</text>
<path d="M416.6,145.6 V162 M439.5,125.3 V136" stroke="#0c0620" stroke-width="1.3"/>
<path d="M141.6,233.6 H148.8 V292.3 H151.7 L145.2,306.3 L138.6,292.3 H141.6 Z" fill="#848484" stroke="#262626" stroke-width="1.4" stroke-linejoin="miter"/>
<path d="M382.3,241.2 L389.7,247.3 L295.2,349.4 L298.5,353.3 L264.9,374.8 L284.3,339.5 L288.2,343 Z" fill="#848484" stroke="#262626" stroke-width="1.4" stroke-linejoin="miter"/>
<path d="M149.6,369.9 V310.3 L251.2,309.1 V334.6" fill="none" stroke="#111" stroke-width="1.1"/>
<text x="193.6" y="301.7" font-size="19.8" font-weight="normal" text-anchor="start" fill="#000">a</text>
<rect x="467.6" y="290.5" width="15.7" height="15.7" fill="#fff" stroke="#222" stroke-width="1.3"/>
<rect x="467.6" y="317.6" width="15.7" height="15.7" fill="#bdbdbd" stroke="#222" stroke-width="1.3"/>
<rect x="468.7" y="318.7" width="13.5" height="13.5" fill="none" stroke="#e4e4e4" stroke-width="0.9"/>
<rect x="467.6" y="341.3" width="15.7" height="15.7" fill="#3c3c3c" stroke="#1c1c1c" stroke-width="1.3"/>
<text x="490.3" y="300.5" font-size="17.4" font-weight="normal" text-anchor="start" fill="#111" textLength="54.5" lengthAdjust="spacingAndGlyphs">Control</text>
<text x="488.2" y="330.8" font-size="17.4" font-weight="normal" text-anchor="start" fill="#111" textLength="31.4" lengthAdjust="spacingAndGlyphs">ATF</text>
<text x="527.3" y="330.8" font-size="17.4" font-weight="normal" text-anchor="start" fill="#111" textLength="26.9" lengthAdjust="spacingAndGlyphs">5µg</text>
<text x="489.5" y="354.8" font-size="17.4" font-weight="normal" text-anchor="start" fill="#111" textLength="30.7" lengthAdjust="spacingAndGlyphs">ATF</text>
<text x="527.8" y="354.8" font-size="17.4" font-weight="normal" text-anchor="start" fill="#111" textLength="36.5" lengthAdjust="spacingAndGlyphs">50µg</text>
<path d="M141.5,563.8 V440.2 H165.3 V563.8" fill="#fff" stroke="#000" stroke-width="3.3" stroke-linejoin="round"/>
<path d="M154.0,416.5 V462.9" stroke="#000" stroke-width="3.4"/>
<path d="M148.2,416.5 H159.8" stroke="#000" stroke-width="3.6" stroke-linecap="round"/>
<path d="M148.2,462.9 H159.8" stroke="#000" stroke-width="3.6" stroke-linecap="round"/>
<path d="M202.1,563.8 V412.9 H226.9 V563.8" fill="url(#gr)" stroke="#000" stroke-width="3.3" stroke-linejoin="round"/>
<path d="M214.8,393.9 V431.3" stroke="#000" stroke-width="3.4"/>
<path d="M208.9,393.9 H220.8" stroke="#000" stroke-width="3.6" stroke-linecap="round"/>
<path d="M208.9,431.3 H220.8" stroke="#000" stroke-width="3.6" stroke-linecap="round"/>
<path d="M238.2,563.8 V396.2 H263.5 V563.8" fill="#000" stroke="#000" stroke-width="3.3" stroke-linejoin="round"/>
<path d="M251.0,374.6 V396.6" stroke="#000" stroke-width="3.4"/>
<path d="M245.2,374.6 H256.8" stroke="#000" stroke-width="3.6" stroke-linecap="round"/>
<path d="M300.1,563.8 V435.5 H324.0 V563.8" fill="url(#gr)" stroke="#000" stroke-width="3.3" stroke-linejoin="round"/>
<path d="M311.9,417.7 V454.1" stroke="#000" stroke-width="3.4"/>
<path d="M306.4,417.7 H317.3" stroke="#000" stroke-width="3.6" stroke-linecap="round"/>
<path d="M306.4,454.1 H317.3" stroke="#000" stroke-width="3.6" stroke-linecap="round"/>
<path d="M336.8,563.8 V429.6 H361.1 V563.8" fill="#000" stroke="#000" stroke-width="3.3" stroke-linejoin="round"/>
<path d="M348.6,410.3 V430.0" stroke="#000" stroke-width="3.4"/>
<path d="M342.9,410.3 H354.3" stroke="#000" stroke-width="3.6" stroke-linecap="round"/>
<path d="M396.8,563.8 V421.3 H421.2 V563.8" fill="url(#gr)" stroke="#000" stroke-width="3.3" stroke-linejoin="round"/>
<path d="M409.0,405.6 V438.0" stroke="#000" stroke-width="3.4"/>
<path d="M403.6,405.6 H414.4" stroke="#000" stroke-width="3.6" stroke-linecap="round"/>
<path d="M403.6,438.0 H414.4" stroke="#000" stroke-width="3.6" stroke-linecap="round"/>
<path d="M433.6,563.8 V412.9 H457.8 V563.8" fill="#000" stroke="#000" stroke-width="3.3" stroke-linejoin="round"/>
<path d="M446.0,393.7 V413.3" stroke="#000" stroke-width="3.4"/>
<path d="M440.6,393.7 H451.4" stroke="#000" stroke-width="3.6" stroke-linecap="round"/>
<path d="M123,325.8 V564.9" stroke="#000" stroke-width="2.5"/>
<path d="M115.6,563.8 H502.4" stroke="#000" stroke-width="2.3"/>
<path d="M115.6,326.8 H123" stroke="#000" stroke-width="2.3"/>
<text x="112.6" y="332.6" font-size="16.2" font-weight="bold" text-anchor="end" fill="#000" textLength="39" lengthAdjust="spacingAndGlyphs">3000</text>
<path d="M115.6,405.3 H123" stroke="#000" stroke-width="2.3"/>
<text x="112.6" y="411.1" font-size="16.2" font-weight="bold" text-anchor="end" fill="#000" textLength="39" lengthAdjust="spacingAndGlyphs">2000</text>
<path d="M115.6,483.8 H123" stroke="#000" stroke-width="2.3"/>
<text x="112.6" y="489.6" font-size="16.2" font-weight="bold" text-anchor="end" fill="#000" textLength="39" lengthAdjust="spacingAndGlyphs">1000</text>
<text x="112.6" y="569.6" font-size="16.2" font-weight="bold" text-anchor="end" fill="#000">0</text>
<text x="157.3" y="576" font-size="20" font-weight="normal" text-anchor="end" fill="#111" textLength="66" lengthAdjust="spacingAndGlyphs" transform="rotate(-56 157.3 576)">Control</text>
<text x="222" y="598.4" font-size="18.4" font-weight="normal" text-anchor="start" fill="#111" textLength="21.6" lengthAdjust="spacingAndGlyphs">6h</text>
<text x="314.7" y="598.4" font-size="18.4" font-weight="normal" text-anchor="start" fill="#111" textLength="32.1" lengthAdjust="spacingAndGlyphs">12h</text>
<text x="410" y="598.4" font-size="18.4" font-weight="normal" text-anchor="start" fill="#111" textLength="31.7" lengthAdjust="spacingAndGlyphs">18h</text>
<text x="23.8" y="441.5" font-size="15.4" font-weight="bold" text-anchor="middle" fill="#000" textLength="240.6" lengthAdjust="spacingAndGlyphs" transform="rotate(-90 23.8 441.5)">Adherence and phagocytosis</text>
<text x="46.2" y="441.5" font-size="15.4" font-weight="bold" text-anchor="middle" textLength="148.2" lengthAdjust="spacingAndGlyphs" transform="rotate(-90 46.2 441.5)">of C.<tspan font-style="italic">albican</tspan> (MFI)</text>
<path d="M139.0,900.0 V766.5 H162.9 V900.0" fill="#fff" stroke="#000" stroke-width="3.3" stroke-linejoin="round"/>
<path d="M151.2,746.4 V785.7" stroke="#000" stroke-width="3.4"/>
<path d="M145.4,746.4 H157.0" stroke="#000" stroke-width="3.6" stroke-linecap="round"/>
<path d="M145.4,785.7 H157.0" stroke="#000" stroke-width="3.6" stroke-linecap="round"/>
<path d="M199.8,900.0 V749.9 H224.7 V900.0" fill="url(#gr)" stroke="#000" stroke-width="3.3" stroke-linejoin="round"/>
<path d="M213.0,735.2 V765.4" stroke="#000" stroke-width="3.4"/>
<path d="M207.5,735.2 H218.5" stroke="#000" stroke-width="3.6" stroke-linecap="round"/>
<path d="M207.5,765.4 H218.5" stroke="#000" stroke-width="3.6" stroke-linecap="round"/>
<path d="M237.2,900.0 V762.9 H262.5 V900.0" fill="#000" stroke="#000" stroke-width="3.3" stroke-linejoin="round"/>
<path d="M250.4,751.0 V763.3" stroke="#000" stroke-width="3.4"/>
<path d="M245.2,751.0 H255.6" stroke="#000" stroke-width="3.6" stroke-linecap="round"/>
<path d="M298.9,900.0 V762.9 H323.2 V900.0" fill="url(#gr)" stroke="#000" stroke-width="3.3" stroke-linejoin="round"/>
<path d="M311.2,746.1 V779.5" stroke="#000" stroke-width="3.4"/>
<path d="M305.4,746.1 H317.0" stroke="#000" stroke-width="3.6" stroke-linecap="round"/>
<path d="M305.4,779.5 H317.0" stroke="#000" stroke-width="3.6" stroke-linecap="round"/>
<path d="M336.5,900.0 V770.0 H360.6 V900.0" fill="#000" stroke="#000" stroke-width="3.3" stroke-linejoin="round"/>
<path d="M348.3,754.3 V770.4" stroke="#000" stroke-width="3.4"/>
<path d="M342.7,754.3 H353.9" stroke="#000" stroke-width="3.6" stroke-linecap="round"/>
<path d="M398.2,900.0 V749.8 H422.6 V900.0" fill="url(#gr)" stroke="#000" stroke-width="3.3" stroke-linejoin="round"/>
<path d="M410.7,734.4 V766.4" stroke="#000" stroke-width="3.4"/>
<path d="M404.8,734.4 H416.6" stroke="#000" stroke-width="3.6" stroke-linecap="round"/>
<path d="M404.8,766.4 H416.6" stroke="#000" stroke-width="3.6" stroke-linecap="round"/>
<path d="M435.6,900.0 V751.5 H460.0 V900.0" fill="#000" stroke="#000" stroke-width="3.3" stroke-linejoin="round"/>
<path d="M447.8,737.8 V751.9" stroke="#000" stroke-width="3.4"/>
<path d="M442.2,737.8 H453.4" stroke="#000" stroke-width="3.6" stroke-linecap="round"/>
<path d="M119.6,661.6 V901.1" stroke="#000" stroke-width="2.4"/>
<path d="M112,900.0 H479" stroke="#000" stroke-width="2.5"/>
<path d="M112,662.6 H119.6" stroke="#000" stroke-width="2.3"/>
<text x="106.3" y="668.6" font-size="16.6" font-weight="bold" text-anchor="end" fill="#000">100</text>
<path d="M112,710.1 H119.6" stroke="#000" stroke-width="2.3"/>
<text x="106.3" y="716.1" font-size="16.6" font-weight="bold" text-anchor="end" fill="#000">80</text>
<path d="M112,757.5 H119.6" stroke="#000" stroke-width="2.3"/>
<text x="106.3" y="763.5" font-size="16.6" font-weight="bold" text-anchor="end" fill="#000">60</text>
<path d="M112,805.0 H119.6" stroke="#000" stroke-width="2.3"/>
<text x="106.3" y="811.0" font-size="16.6" font-weight="bold" text-anchor="end" fill="#000">40</text>
<path d="M112,852.4 H119.6" stroke="#000" stroke-width="2.3"/>
<text x="106.3" y="858.4" font-size="16.6" font-weight="bold" text-anchor="end" fill="#000">20</text>
<text x="106.3" y="906.0" font-size="16.6" font-weight="bold" text-anchor="end" fill="#000">0</text>
<text x="164.3" y="920" font-size="20" font-weight="normal" text-anchor="end" fill="#111" transform="rotate(-41.5 164.3 920)">Control</text>
<text x="219.6" y="933.2" font-size="18.4" font-weight="normal" text-anchor="start" fill="#111" textLength="21.7" lengthAdjust="spacingAndGlyphs">6h</text>
<text x="310" y="933.2" font-size="18.4" font-weight="normal" text-anchor="start" fill="#111" textLength="31.8" lengthAdjust="spacingAndGlyphs">12h</text>
<text x="411.6" y="933.2" font-size="18.4" font-weight="normal" text-anchor="start" fill="#111" textLength="30.7" lengthAdjust="spacingAndGlyphs">18h</text>
<text x="55" y="781.7" font-size="15.6" font-weight="bold" text-anchor="middle" fill="#000" textLength="219.3" lengthAdjust="spacingAndGlyphs" transform="rotate(-90 55 781.7)">%CD14+ cells (monocytes)</text>
</svg></body></html>
